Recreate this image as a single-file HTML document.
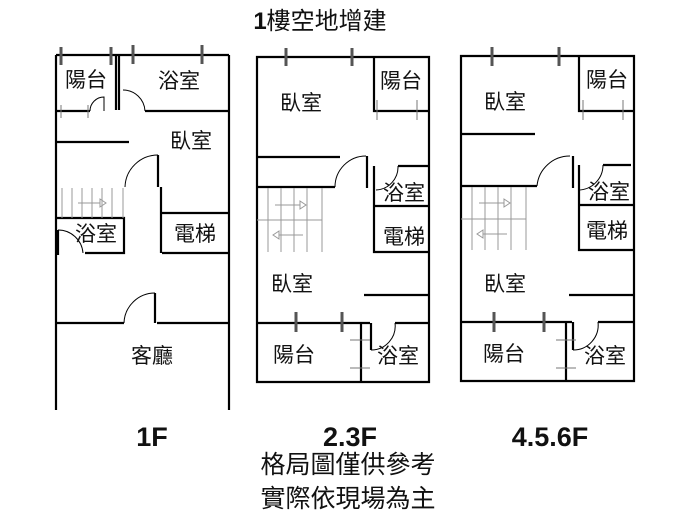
<!DOCTYPE html>
<html><head><meta charset="utf-8"><style>
html,body{margin:0;padding:0;background:#fff;}
svg{display:block;}
text{font-family:"Liberation Sans","Noto Sans CJK TC",sans-serif;fill:#111;}
</style></head><body>
<svg width="700" height="525" viewBox="0 0 700 525" xmlns="http://www.w3.org/2000/svg">
<g stroke="#000" stroke-width="2.2" fill="none">
<!-- Plan 1 -->
<path d="M56 55V410M229 55V410M56 55H229"/>
<path d="M116 55V110M119 55V110"/>
<path d="M56 111H90M145 111H229"/>
<path d="M56 142H129"/>
<path d="M158 155V187M161 187V253M162 213H229M162 253H229"/>
<path d="M56 218H124V253H85"/>
<path d="M56 323H124M157 323H229M155 293V323"/>
<path d="M58 230V255"/>
<!-- Plan 2 -->
<path d="M257 57H429V382H257Z"/>
<path d="M374 57V111H429"/>
<path d="M257 157H340M367 156V188M257 187H335"/>
<path d="M374 166V252H429M398 166H429M374 206H429"/>
<path d="M364 295H429"/>
<path d="M257 323H370M395 323H429M361 323V382M371 323V350"/>
<!-- Plan 3 -->
<path d="M461 56H634V381H461Z"/>
<path d="M579 56V111H634"/>
<path d="M461 134H535M573 156V188M461 186H537"/>
<path d="M579 165V250H634M603 165H631M579 205H634"/>
<path d="M569 295H634"/>
<path d="M461 322H572M598 322H634M566 322V381M573 322V350"/>
</g>
<g stroke="#000" stroke-width="1" fill="none">
<path d="M90 111A14 14 0 0 1 104 97V111"/>
<path d="M145 111A22 22 0 0 0 123 90"/>
<path d="M125 187A33 33 0 0 1 158 155"/>
<path d="M124 323A31 31 0 0 1 155 293"/>
<path d="M58 230A25 25 0 0 1 83 253"/>
<path d="M335 187A31 31 0 0 1 366 156"/>
<path d="M376 190A23 23 0 0 0 398 166"/>
<path d="M371 350A24 24 0 0 0 395 323"/>
<path d="M537 186A33 33 0 0 1 570 156"/>
<path d="M578 190A25 25 0 0 0 603 165"/>
<path d="M573 350A25 25 0 0 0 598 322"/>
</g>
<!-- window marks -->
<g stroke="#555" stroke-width="3">
<path d="M61 47V65M111 47V65M133 45V64M202 45V64"/>
<path d="M286 48V66M352 48V66M296 312V332M342 312V332"/>
<path d="M492 47V66M559 47V66M494 312V332M544 312V332"/>
</g>
<g stroke="#777" stroke-width="1" fill="none">
<path d="M61 105V118M88 105V118M377 100V120M417 100V120M583 100V120M623 100V120"/>
<path d="M350 340H370M350 368H370M556 340H576M556 368H576"/>
</g>
<!-- stairs -->
<g stroke="#999" stroke-width="1" fill="none">
<path d="M62 188V218M72 188V218M82 188V218M92 188V218M102 188V218M112 188V218M123 188V218M78 203H100M100 199L106 203L100 207Z"/>
<path d="M257 220H322M268 188V252M281 188V252M294 188V252M307 188V252M322 188V252M275 205H300M300 201L306 205L300 209ZM279 235H303M279 231L273 235L279 239Z"/>
<path d="M461 219H526M472 187V250M485 187V250M498 187V250M511 187V250M526 187V250M479 203H504M504 199L510 203L504 207ZM483 234H507M483 230L477 234L483 238Z"/>
</g>
<g font-size="21" text-anchor="middle">
<text x="86" y="87">陽台</text><text x="179" y="88">浴室</text>
<text x="191" y="148">臥室</text><text x="96" y="241">浴室</text>
<text x="195" y="241">電梯</text><text x="152" y="363">客廳</text>
<text x="301" y="110">臥室</text><text x="401" y="88">陽台</text>
<text x="404" y="200">浴室</text><text x="404" y="244">電梯</text>
<text x="292" y="291">臥室</text><text x="294" y="362">陽台</text><text x="398" y="363">浴室</text>
<text x="505" y="109">臥室</text><text x="607" y="87">陽台</text>
<text x="609" y="199">浴室</text><text x="607" y="238">電梯</text>
<text x="505" y="291">臥室</text><text x="504" y="361">陽台</text><text x="605" y="363">浴室</text>
</g>
<g font-size="24" text-anchor="middle">
<text x="320" y="29"><tspan font-weight="bold">1</tspan>樓空地增建</text>
</g>
<g font-size="25" text-anchor="middle">
<text x="348" y="473">格局圖僅供參考</text>
<text x="348" y="507">實際依現場為主</text>
</g>
<g font-size="27" font-weight="bold" text-anchor="middle">
<text x="152" y="446">1F</text><text x="350" y="446">2.3F</text><text x="550" y="446">4.5.6F</text>
</g>
</svg>
</body></html>
